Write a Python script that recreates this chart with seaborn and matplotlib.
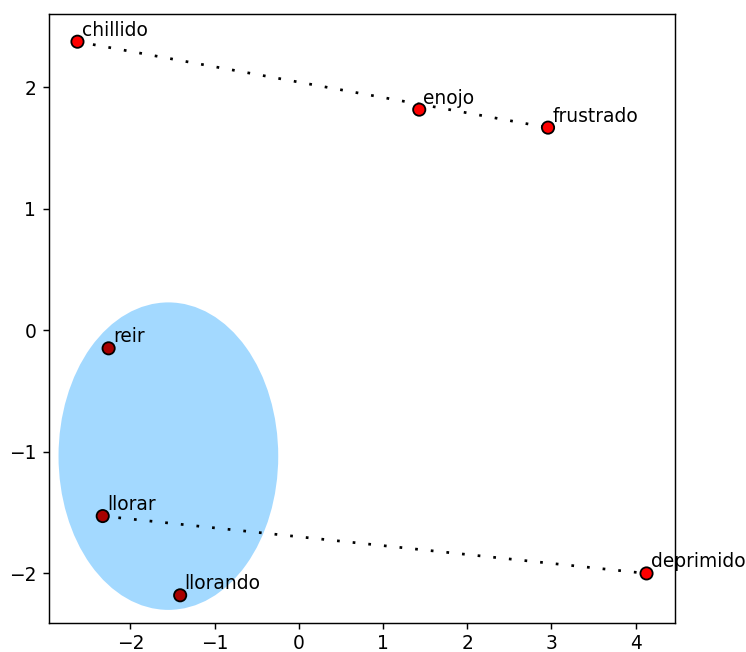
import matplotlib
matplotlib.use("Agg")
import matplotlib.pyplot as plt
from matplotlib.patches import Ellipse
import pandas as pd
import seaborn as sns

# Word embedding coordinates (2D projection)
words = ["chillido", "enojo", "frustrado", "reir", "llorar", "llorando", "deprimido"]
xs = [-2.63, 1.43, 2.96, -2.26, -2.33, -1.41, 4.13]
ys = [2.375, 1.816, 1.668, -0.148, -1.528, -2.18, -2.0]
in_cluster = [False, False, False, True, True, True, False]

# Pairs joined by a dotted line
links = [("chillido", "frustrado"), ("llorar", "deprimido")]

# Highlighted cluster region
cluster_center = (-1.55, -1.035)
cluster_width = 2.61
cluster_height = 2.53

df = pd.DataFrame({"word": words, "x": xs, "y": ys, "cluster": in_cluster})
pos = df.set_index("word")

fig = plt.figure(figsize=(746 / 130, 652 / 130), dpi=130)
ax = fig.add_axes([0.0657, 0.0445, 0.9048 - 0.0657, 0.9785 - 0.0445])

for a, b in links:
    ax.plot([pos.loc[a, "x"], pos.loc[b, "x"]], [pos.loc[a, "y"], pos.loc[b, "y"]],
            color="black", lw=1.5, linestyle=(0, (1, 4.8)), zorder=1)

sns.scatterplot(data=df, x="x", y="y", hue="cluster",
                palette={False: "#ff0000", True: "#a80000"},
                s=46, edgecolor="black", linewidth=1.0, legend=False,
                ax=ax, zorder=3)

for w, x, y in zip(words, xs, ys):
    ax.text(x + 0.05, y + 0.05, w, fontsize=10.3, zorder=4)

# cluster shading: added as an artist so it does not change the data limits
ax.add_artist(Ellipse(cluster_center, cluster_width, cluster_height,
                      facecolor="#a3d9ff", edgecolor="none", zorder=0))

ax.set_xlabel("")
ax.set_ylabel("")
ax.set_xticks([-2, -1, 0, 1, 2, 3, 4])
ax.set_yticks([-2, -1, 0, 1, 2])
ax.tick_params(axis="x", pad=2.5)
ax.tick_params(labelsize=10.3)

fig.savefig("out.png", dpi=130)
